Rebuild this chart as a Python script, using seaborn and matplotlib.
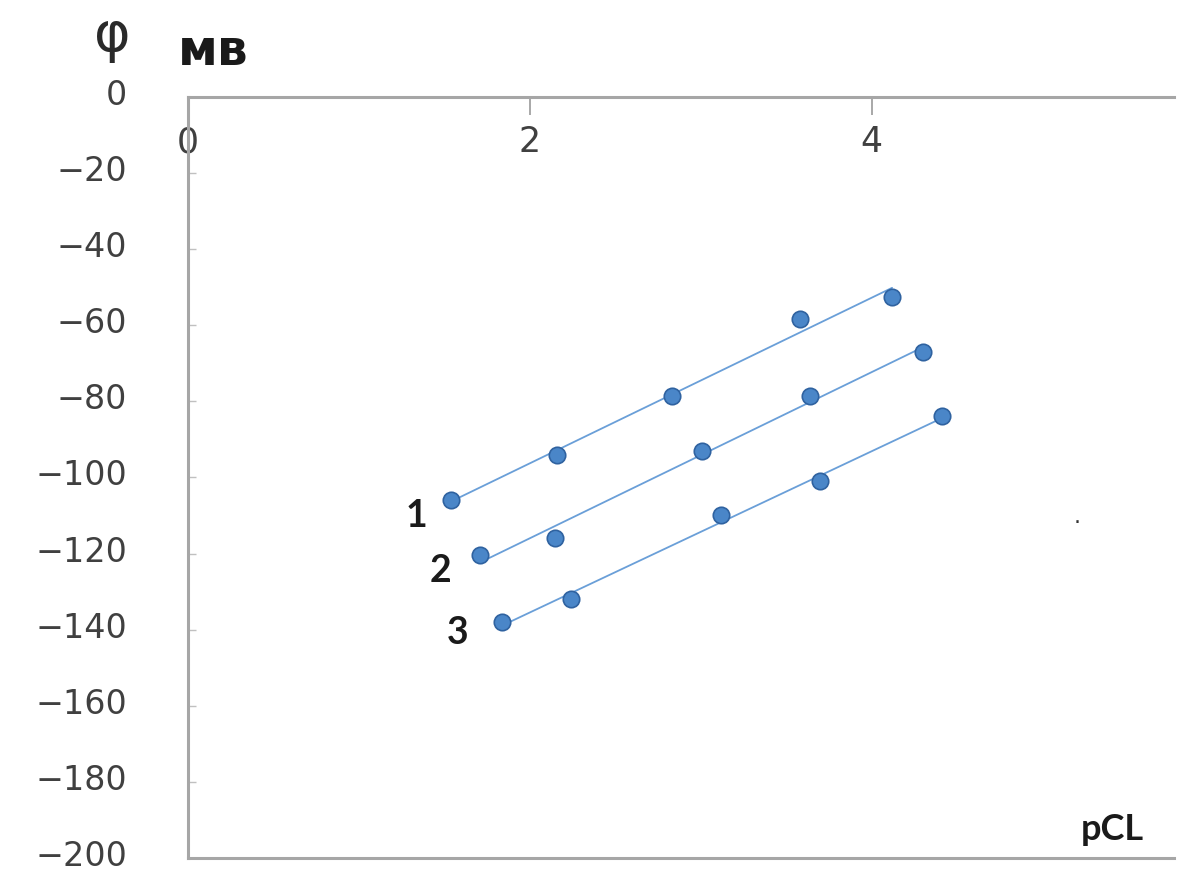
import numpy as np
import pandas as pd
import seaborn as sns
import matplotlib.pyplot as plt
from matplotlib.transforms import ScaledTranslation

# ---- data ----
pcl_1 = [1.54, 2.16, 2.83, 3.58, 4.12]
phi_1 = [-106.0, -94.0, -78.5, -58.5, -52.5]
pcl_2 = [1.71, 2.15, 3.01, 3.64, 4.30]
phi_2 = [-120.5, -116.0, -93.0, -78.5, -67.0]
pcl_3 = [1.84, 2.24, 3.12, 3.70, 4.41]
phi_3 = [-138.0, -132.0, -110.0, -101.0, -84.0]
curve_labels = ["1", "2", "3"]
x_ticks = [0, 2, 4]
y_ticks = list(range(0, -201, -20))

series = [(pcl_1, phi_1), (pcl_2, phi_2), (pcl_3, phi_3)]

sns.set_theme(style="white")
plt.rcParams["font.family"] = ["DejaVu Sans"]

fig = plt.figure(figsize=(11.98, 8.75), dpi=100)
ax = fig.add_axes([0.157, 0.0194, 0.823, 0.870])

marker_fill = "#4a86c8"
marker_edge = "#2f62a0"
line_col = "#6a9fd8"

label_offsets = [(-25, -11), (-29, -11), (-32, -8)]
for (xs, ys), lab, off in zip(series, curve_labels, label_offsets):
    df = pd.DataFrame({"pCL": xs, "phi": ys})
    sns.regplot(data=df, x="pCL", y="phi", ax=ax, ci=None, truncate=True,
                scatter_kws=dict(s=140, color=marker_fill, edgecolor=marker_edge,
                                 linewidths=1.2, zorder=3, alpha=1),
                line_kws=dict(color=line_col, lw=1.3, zorder=2))
    ax.annotate(lab, xy=(xs[0], ys[0]), xytext=off, textcoords="offset points",
                ha="center", va="center", fontsize=27, fontweight="bold",
                family=["Lato", "DejaVu Sans"], color="#1a1a1a")

ax.set_xlim(0, 5.77)
ax.set_ylim(-200, 0)
ax.set_xlabel("")
ax.set_ylabel("")

ax.set_xticks(x_ticks)
ax.set_xticklabels([str(t) for t in x_ticks])
ax.set_yticks(y_ticks)
ax.set_yticklabels([str(t).replace("-", "\u2212") for t in y_ticks])

ax.xaxis.set_ticks_position("top")
ax.tick_params(axis="x", top=True, bottom=False, labeltop=True, labelbottom=False,
               direction="in", length=13, width=1.2, color="#999999",
               pad=-45, labelsize=25, labelcolor="#404040")
ax.tick_params(axis="y", left=True, direction="in", length=6, width=1,
               color="#c0c0c0", pad=44, labelsize=24, labelcolor="#404040")

shift = ScaledTranslation(0, 5 / 100, fig.dpi_scale_trans)
for lbl in ax.get_yticklabels():
    lbl.set_transform(lbl.get_transform() + shift)

for side in ["top", "left", "bottom"]:
    ax.spines[side].set_visible(True)
    ax.spines[side].set_color("#a6a6a6")
    ax.spines[side].set_linewidth(2.2)
ax.spines["right"].set_visible(False)

# axis titles
fig.text(112 / 1198, 1 - 36 / 875, "φ", fontsize=40, ha="center", va="center",
         color="#2a2a2a")
fig.text(213 / 1198, 1 - 51 / 875, "мв", fontsize=35, fontweight="bold",
         ha="center", va="center", color="#1a1a1a")
ax.text(0.937, 0.037, "pCL", transform=ax.transAxes, fontsize=26,
        fontweight="bold", family=["Lato", "DejaVu Sans"], ha="center",
        va="center", color="#1a1a1a")
ax.text(5.2, -112, ".", fontsize=16, ha="center", va="baseline", color="#333333")

fig.savefig("out.png", dpi=100, facecolor="white")
